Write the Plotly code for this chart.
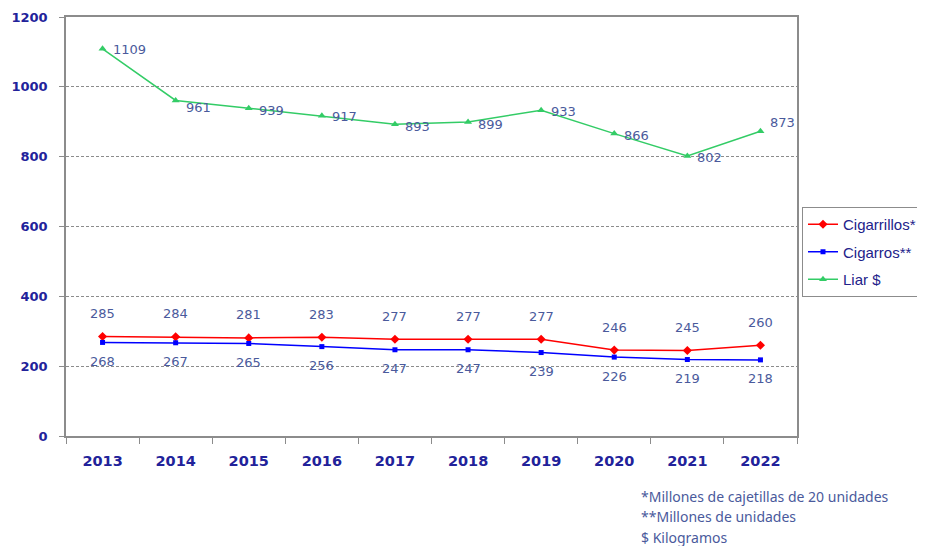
import plotly.graph_objects as go

years = ["2013", "2014", "2015", "2016", "2017", "2018", "2019", "2020", "2021", "2022"]
cigarrillos = [285, 284, 281, 283, 277, 277, 277, 246, 245, 260]
cigarros = [268, 267, 265, 256, 247, 247, 239, 226, 219, 218]
liar = [1109, 961, 939, 917, 893, 899, 933, 866, 802, 873]
footnotes = ["*Millones de cajetillas de 20 unidades", "**Millones de unidades", "$ Kilogramos"]

# per-label vertical nudges (style) for the Liar labels
liar_label_shift = [-1, -7, -2, -1, -2, -2, -1, -2, -2, 9]

label_color = "#4a5a9c"
axis_text = "#22229a"
axis_line = "#8c8c8c"

# page body has an 8px margin: work in screen pixels, convert to figure pixels
OFF = 8
W, H = 925 - OFF, 546 - OFF
PL, PR, PT, PB = 66, 797, 17, 436  # plot area in screen px
L, T = PL - OFF, PT - OFF
R, B = W - (PR - OFF), H - (PB - OFF)
pw, ph = W - L - R, H - T - B


def px(xs):
    return (xs - PL) / pw


def py(ys):
    return (PB - ys) / ph


fig = go.Figure()
fig.add_trace(go.Scatter(x=years, y=cigarrillos, name="Cigarrillos*", mode="lines+markers",
                         legendgroup="a",
                         line=dict(color="#ff0000", width=1.5),
                         marker=dict(symbol="diamond", size=7, color="#ff0000")))
fig.add_trace(go.Scatter(x=years, y=cigarros, name="Cigarros**", mode="lines+markers",
                         legendgroup="b",
                         line=dict(color="#0000ff", width=1.5),
                         marker=dict(symbol="square", size=5, color="#0000ff")))
fig.add_trace(go.Scatter(x=years, y=liar, name="Liar $", mode="lines+markers",
                         legendgroup="c",
                         line=dict(color="#33cc66", width=1.5),
                         marker=dict(symbol="triangle-up", size=7, color="#33cc66")))

annotations = []
lab_font = dict(family="DejaVu Sans", size=13, color=label_color)
for i, v in enumerate(cigarrillos):
    annotations.append(dict(x=i, y=v, xref="x", yref="y", text=str(v), showarrow=False,
                            yshift=23, font=lab_font))
for i, v in enumerate(cigarros):
    annotations.append(dict(x=i, y=v, xref="x", yref="y", text=str(v), showarrow=False,
                            yshift=-19, font=lab_font))
for i, v in enumerate(liar):
    annotations.append(dict(x=i, y=v, xref="x", yref="y", text=str(v), showarrow=False,
                            xanchor="left", xshift=8, yshift=liar_label_shift[i], font=lab_font))
for i, t in enumerate(footnotes):
    annotations.append(dict(x=px(639), y=py(496 + 20.5 * i), xref="paper", yref="paper", text=t,
                            showarrow=False, xanchor="left", yanchor="middle",
                            font=dict(family="Noto Sans", size=14, color=label_color)))

fig.update_layout(
    width=W, height=H,
    margin=dict(l=L, r=R, t=T, b=B, pad=0, autoexpand=False),
    paper_bgcolor="white", plot_bgcolor="white",
    annotations=annotations,
    legend=dict(x=px(922), y=py(207), xanchor="right", yanchor="top",
                traceorder="grouped", tracegroupgap=5,
                bgcolor="white", bordercolor="#8c8c8c", borderwidth=1,
                font=dict(family="Liberation Sans", size=15, color="#22228a")),
    xaxis=dict(type="category", range=[-0.5, 9.5], tickson="boundaries", ticks="outside",
               ticklen=6, tickcolor=axis_line, showline=True, linecolor=axis_line, linewidth=1.5,
               mirror=True, showgrid=False, ticklabelstandoff=11,
               tickfont=dict(family="DejaVu Sans", size=14.5, color=axis_text, weight="bold")),
    yaxis=dict(range=[0, 1200], dtick=200, ticks="outside", ticklen=5, tickcolor=axis_line,
               showline=True, linecolor=axis_line, linewidth=1.5, mirror=True,
               showgrid=True, gridcolor="#8c8c8c", gridwidth=1, griddash="3px,2px",
               zeroline=False, ticklabelstandoff=9,
               tickfont=dict(family="DejaVu Sans", size=13, color=axis_text, weight="bold")),
)

fig.write_html("out.html")
